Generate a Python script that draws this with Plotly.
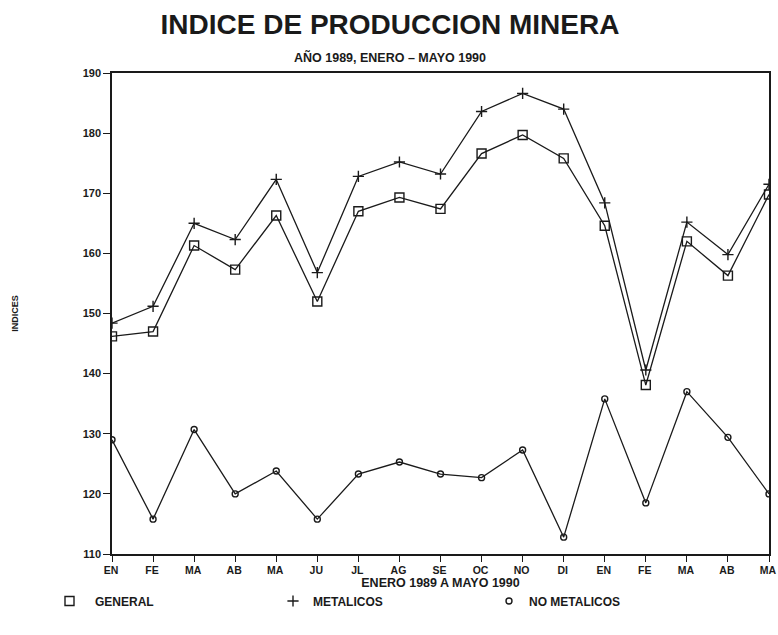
import plotly.graph_objects as go

months = ["EN", "FE", "MA", "AB", "MA", "JU", "JL", "AG", "SE", "OC", "NO", "DI",
          "EN", "FE", "MA", "AB", "MA"]
general = [146.2, 147, 161.3, 157.3, 166.3, 152, 167, 169.3, 167.4, 176.6, 179.7, 175.8,
           164.6, 138.1, 162, 156.3, 169.8]
metalicos = [148.4, 151.2, 165, 162.3, 172.3, 156.8, 172.8, 175.2, 173.2, 183.6, 186.6, 184,
             168.4, 140.6, 165.2, 159.8, 171.5]
no_metalicos = [129, 115.8, 130.7, 120, 123.8, 115.8, 123.3, 125.3, 123.3, 122.7, 127.3, 112.8,
                135.8, 118.5, 137, 129.4, 120]
y_ticks = [110, 120, 130, 140, 150, 160, 170, 180, 190]

x = list(range(len(months)))
ink = "#1a1a1a"
font_fam = "Liberation Sans, Arial, sans-serif"

W, H = 778, 635
ML, MR, MT, MB = 112, 9, 73, 81
plot_w = W - ML - MR
plot_h = H - MT - MB
page_cx = 390

fig = go.Figure()

series = [
    ("GENERAL", general, dict(symbol="square-open", size=9, line=dict(width=1.4, color=ink)), "legend", 44, 41),
    ("METALICOS", metalicos, dict(symbol="cross-thin-open", size=8, line=dict(width=1.4, color=ink)), "legend2", 273, 30),
    ("NO METALICOS", no_metalicos, dict(symbol="circle-open", size=6, line=dict(width=1.4, color=ink)), "legend3", 489, 30),
]
legends = {}
for name, vals, mk, lg, lx, iw in series:
    fig.add_trace(go.Scatter(x=x, y=vals, mode="lines+markers", name=name,
                             line=dict(color=ink, width=1.3), marker=dict(color=ink, **mk),
                             showlegend=False))
    fig.add_trace(go.Scatter(x=[None], y=[None], mode="markers", name=name,
                             marker=dict(color=ink, **mk), showlegend=True, legend=lg))
    legends[lg] = dict(orientation="h", x=(lx - ML) / plot_w, xanchor="left",
                       y=-47 / plot_h, yanchor="middle", itemwidth=iw,
                       font=dict(size=12, weight="bold"), bgcolor="rgba(0,0,0,0)")

fig.update_layout(
    width=W, height=H,
    paper_bgcolor="white", plot_bgcolor="white",
    margin=dict(l=ML, r=MR, t=MT, b=MB, autoexpand=False),
    font=dict(family=font_fam, color=ink, size=11),
    title=dict(
        text="<b>INDICE DE PRODUCCION MINERA</b>",
        x=page_cx / W, xanchor="center", xref="container", y=1 - 24 / H, yanchor="middle", yref="container",
        font=dict(size=28, family=font_fam, color=ink),
    ),
    annotations=[dict(text="<b>AÑO 1989, ENERO – MAYO 1990</b>", xref="paper", yref="paper",
                      x=(page_cx - ML) / plot_w, y=(plot_h + 16) / plot_h, xanchor="center", yanchor="middle",
                      showarrow=False, font=dict(size=12.5, color=ink))],
    xaxis=dict(
        tickmode="array", tickvals=x, ticktext=months, range=[0, 16],
        showgrid=False, zeroline=False, showline=True, linecolor=ink, linewidth=1.5,
        mirror=True, ticks="outside", ticklen=6, tickcolor=ink, tickwidth=1.3,
        tickfont=dict(size=10.5, weight="bold"), ticklabelshift=-1,
        title=dict(text="<b>ENERO 1989 A MAYO 1990</b>", font=dict(size=12.5), standoff=0),
    ),
    yaxis=dict(
        tickmode="array", tickvals=y_ticks, range=[110, 190],
        showgrid=False, zeroline=False, showline=True, linecolor=ink, linewidth=1.5,
        mirror=True, ticks="outside", ticklen=7, tickcolor=ink, tickwidth=1.3,
        tickfont=dict(size=11, weight="bold"),
        title=dict(text="<b>INDICES</b>", font=dict(size=9), standoff=63),
    ),
    **legends,
)

fig.write_html(
    "out.html",
    config={"displayModeBar": False},
    post_script="document.body.style.margin='0';document.documentElement.style.overflow='hidden';",
)
